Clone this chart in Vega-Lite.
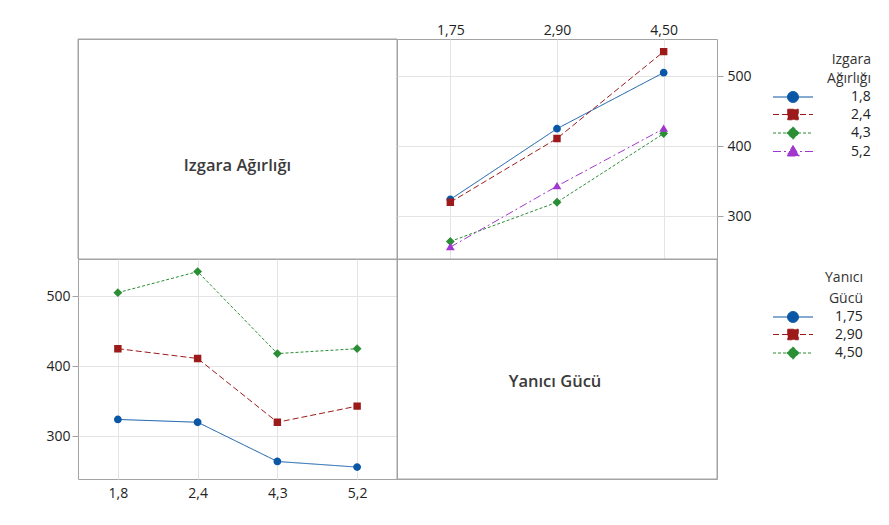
{
  "$schema": "https://vega.github.io/schema/vega-lite/v6.json",
  "background": "white",
  "padding": {"left": 45, "top": 22, "right": 5, "bottom": 5},
  "datasets": {
    "means": [
      {"izgara": "1,8", "yanici": "1,75", "value": 324},
      {"izgara": "1,8", "yanici": "2,90", "value": 425},
      {"izgara": "1,8", "yanici": "4,50", "value": 505},
      {"izgara": "2,4", "yanici": "1,75", "value": 320},
      {"izgara": "2,4", "yanici": "2,90", "value": 411},
      {"izgara": "2,4", "yanici": "4,50", "value": 535},
      {"izgara": "4,3", "yanici": "1,75", "value": 264},
      {"izgara": "4,3", "yanici": "2,90", "value": 320},
      {"izgara": "4,3", "yanici": "4,50", "value": 418},
      {"izgara": "5,2", "yanici": "1,75", "value": 256},
      {"izgara": "5,2", "yanici": "2,90", "value": 343},
      {"izgara": "5,2", "yanici": "4,50", "value": 425}
    ],
    "lab1": [{"label": "Izgara Ağırlığı"}],
    "lab2": [{"label": "Yanıcı Gücü"}]
  },
  "columns": 2,
  "spacing": 0,
  "bounds": "flush",
  "concat": [
    {
      "width": 319, "height": 220,
      "data": {"name": "lab1"},
      "view": {"stroke": "#a3a3a3", "strokeWidth": 1},
      "layer": [
        {"mark": {"type": "rect", "fill": "transparent", "stroke": "#a3a3a3", "strokeWidth": 1}, "encoding": {}},
        {"mark": {"type": "text", "fontSize": 16.5, "fontWeight": 600, "color": "#3a3a3a", "dy": 17, "dx": 0},
         "encoding": {"text": {"field": "label"}}}
      ]
    },
    {
      "width": 320, "height": 220,
      "data": {"name": "means"},
      "encoding": {
        "x": {"field": "yanici", "type": "ordinal", "scale": {"type": "point", "padding": 0.5},
              "axis": {"orient": "top", "title": null, "labelAngle": 0, "grid": true, "ticks": false, "labelPadding": 2}},
        "y": {"field": "value", "type": "quantitative", "scale": {"domain": [239, 553], "nice": false, "zero": false},
              "axis": {"orient": "right", "title": null, "values": [300, 400, 500], "grid": true, "labelPadding": 4}},
        "color": {"field": "izgara", "type": "nominal",
                  "scale": {"domain": ["1,8", "2,4", "4,3", "5,2"], "range": ["#0a57a6", "#9c1a1a", "#2a8e34", "#a037cf"]},
                  "legend": {
                    "title": ["Izgara", "Ağırlığı"], "orient": "none", "legendX": 389, "legendY": 14,
                    "titleAlign": "right", "titleAnchor": "end", "titleLineHeight": 19, "titlePadding": 4,
                    "symbolSize": 100, "symbolStrokeWidth": 1, "labelOffset": 51, "rowPadding": 1.5}}
      },
      "layer": [
        {"mark": {"type": "line", "strokeWidth": 1},
         "encoding": {"strokeDash": {"field": "izgara", "type": "nominal",
           "scale": {"domain": ["1,8", "2,4", "4,3", "5,2"], "range": [[1, 0], [6, 3], [3, 2], [8, 3, 2, 3]]},
           "legend": {
                    "title": ["Izgara", "Ağırlığı"], "orient": "none", "legendX": 389, "legendY": 14,
                    "titleAlign": "right", "titleAnchor": "end", "titleLineHeight": 19, "titlePadding": 4,
                    "symbolSize": 100, "symbolStrokeWidth": 1, "labelOffset": 51, "rowPadding": 1.5}}}},
        {"mark": {"type": "point", "filled": true, "opacity": 1, "size": 50},
         "encoding": {"shape": {"field": "izgara", "type": "nominal",
           "scale": {"domain": ["1,8", "2,4", "4,3", "5,2"], "range": [
             "M-4,0L4,0M1.1,0A1.1,1.1,0,1,1,-1.1,0A1.1,1.1,0,1,1,1.1,0Z",
             "M-4,0L4,0M-1.05,-1.05L1.05,-1.05L1.05,1.05L-1.05,1.05Z",
             "M-4,0L4,0M0,-1.25L1.25,0L0,1.25L-1.25,0Z",
             "M-4,0L4,0M0,-1.2L1.25,0.9L-1.25,0.9Z"]},
           "legend": {
                    "title": ["Izgara", "Ağırlığı"], "orient": "none", "legendX": 389, "legendY": 14,
                    "titleAlign": "right", "titleAnchor": "end", "titleLineHeight": 19, "titlePadding": 4,
                    "symbolSize": 100, "symbolStrokeWidth": 1, "labelOffset": 51, "rowPadding": 1.5}}}}
      ]
    },
    {
      "width": 319, "height": 220,
      "data": {"name": "means"},
      "encoding": {
        "x": {"field": "izgara", "type": "ordinal", "scale": {"type": "point", "padding": 0.5},
              "axis": {"orient": "bottom", "title": null, "labelAngle": 0, "grid": true, "ticks": false, "labelPadding": 7}},
        "y": {"field": "value", "type": "quantitative", "scale": {"domain": [239, 553], "nice": false, "zero": false},
              "axis": {"orient": "left", "title": null, "values": [300, 400, 500], "grid": true, "labelPadding": 2}},
        "color": {"field": "yanici", "type": "nominal",
                  "scale": {"domain": ["1,75", "2,90", "4,50"], "range": ["#0a57a6", "#9c1a1a", "#2a8e34"]},
                  "legend": {
                    "title": ["Yanıcı", "Gücü"], "orient": "none", "legendX": 708, "legendY": 12,
                    "titleAlign": "right", "titleAnchor": "end", "titleLineHeight": 21, "titlePadding": 4,
                    "symbolSize": 100, "symbolStrokeWidth": 1, "labelOffset": 35, "rowPadding": 1.5}}
      },
      "layer": [
        {"mark": {"type": "line", "strokeWidth": 1},
         "encoding": {"strokeDash": {"field": "yanici", "type": "nominal",
           "scale": {"domain": ["1,75", "2,90", "4,50"], "range": [[1, 0], [6, 3], [3, 2]]},
           "legend": {
                    "title": ["Yanıcı", "Gücü"], "orient": "none", "legendX": 708, "legendY": 12,
                    "titleAlign": "right", "titleAnchor": "end", "titleLineHeight": 21, "titlePadding": 4,
                    "symbolSize": 100, "symbolStrokeWidth": 1, "labelOffset": 35, "rowPadding": 1.5}}}},
        {"mark": {"type": "point", "filled": true, "opacity": 1, "size": 50},
         "encoding": {"shape": {"field": "yanici", "type": "nominal",
           "scale": {"domain": ["1,75", "2,90", "4,50"], "range": [
             "M-4,0L4,0M1.1,0A1.1,1.1,0,1,1,-1.1,0A1.1,1.1,0,1,1,1.1,0Z",
             "M-4,0L4,0M-1.05,-1.05L1.05,-1.05L1.05,1.05L-1.05,1.05Z",
             "M-4,0L4,0M0,-1.25L1.25,0L0,1.25L-1.25,0Z"]},
           "legend": {
                    "title": ["Yanıcı", "Gücü"], "orient": "none", "legendX": 708, "legendY": 12,
                    "titleAlign": "right", "titleAnchor": "end", "titleLineHeight": 21, "titlePadding": 4,
                    "symbolSize": 100, "symbolStrokeWidth": 1, "labelOffset": 35, "rowPadding": 1.5}}}}
      ]
    },
    {
      "width": 320, "height": 220,
      "data": {"name": "lab2"},
      "view": {"stroke": "#a3a3a3", "strokeWidth": 1},
      "layer": [
        {"mark": {"type": "rect", "fill": "transparent", "stroke": "#a3a3a3", "strokeWidth": 1}, "encoding": {}},
        {"mark": {"type": "text", "fontSize": 16.5, "fontWeight": 600, "color": "#3a3a3a", "dy": 13, "dx": -2},
         "encoding": {"text": {"field": "label"}}}
      ]
    }
  ],
  "resolve": {
    "scale": {"color": "independent", "shape": "independent", "strokeDash": "independent", "x": "independent", "y": "independent"},
    "legend": {"color": "independent", "shape": "independent", "strokeDash": "independent"}
  },
  "config": {
    "font": "Open Sans",
    "view": {"stroke": "#a3a3a3", "strokeWidth": 1},
    "axis": {"labelFont": "Open Sans", "labelFontSize": 14, "labelColor": "#222222", "gridColor": "#e4e4e4", "tickColor": "#a3a3a3", "tickSize": 6, "domain": false},
    "legend": {"labelFont": "Open Sans", "labelFontSize": 14, "labelColor": "#222222", "titleFont": "Open Sans", "titleFontSize": 14, "titleFontWeight": "normal", "titleColor": "#333333"},
    "text": {"font": "Open Sans"}
  }
}
